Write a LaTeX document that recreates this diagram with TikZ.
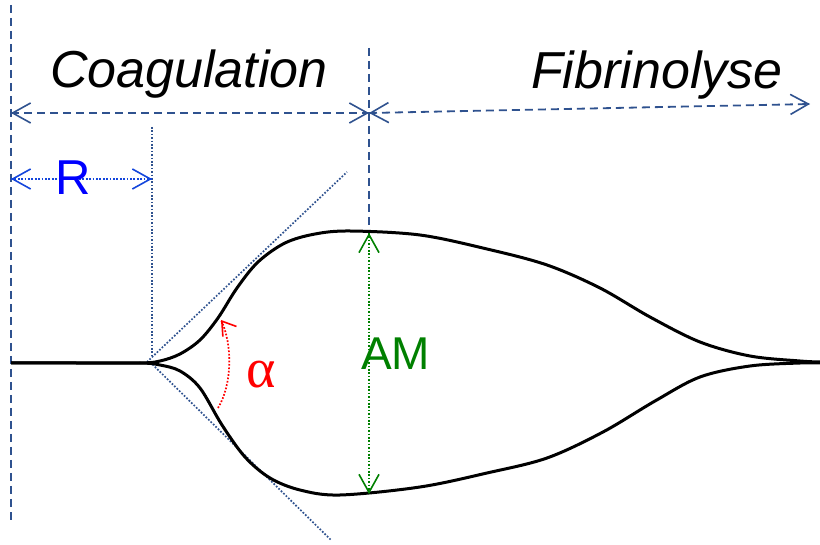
\documentclass[tikz,border=0pt]{standalone}
\usepackage{fontspec}
\setmainfont{Liberation Sans}
\newfontfamily\greekfont{Liberation Serif}
\usetikzlibrary{arrows.meta,calc}
\definecolor{dkblue}{RGB}{47,82,143}
\definecolor{rblue}{RGB}{20,70,220}
\definecolor{txtblue}{RGB}{0,0,255}
\definecolor{amgreen}{RGB}{0,128,0}
\definecolor{alred}{RGB}{255,0,0}
\tikzset{
  barb/.tip={Straight Barb[length=18pt,width=20pt,line width=1.6pt]},
  sbarb/.tip={Straight Barb[length=13pt,width=17pt,line width=1.6pt]},
  headonly/.style={solid,line width=1.6pt,-barb},
  dashline/.style={draw=dkblue,line width=1.8pt,dash pattern=on 8pt off 5pt},
  dotline/.style={line width=1.7pt,dash pattern=on 1.7pt off 1.7pt},
  curve/.style={draw=black,line width=3pt,line join=round},
  bigtext/.style={inner sep=0pt,anchor=base west,font=\fontsize{52}{62}\selectfont}
}
\begin{document}
\begin{tikzpicture}[x=1pt,y=-1pt]
\useasboundingbox (0,0) rectangle (820,545);
% coordinates
\coordinate (Ltop) at (11,5);
\coordinate (Lbot) at (11,522);
\coordinate (Mtop) at (369,48);
\coordinate (Mbot) at (369,232);
\coordinate (A1) at (11,113);
\coordinate (A2) at (369,113);
\coordinate (A3) at (810,104);
\coordinate (Rtop) at (152,127);
\coordinate (Rbot) at (152,355);
\coordinate (R1) at (11,179);
\coordinate (R2) at (152,179);
\coordinate (T0) at (147,362);
\coordinate (T1) at (347,172);
\coordinate (T2) at (150,362);
\coordinate (T3) at (331,540);
\coordinate (AMt) at (369,233);
\coordinate (AMb) at (369,494);
\coordinate (al1) at (218,408);
\coordinate (al2) at (221,320);
% guide lines
\draw[dashline] (Ltop) -- (Lbot);
\draw[dashline] (Mtop) -- (Mbot);
\draw[dashline] (A1) -- (A2);
\draw[dashline] (A2) -- (A3);
\draw[headonly,draw=dkblue] ($(A1)!1pt!(A2)$) -- (A1);
\draw[headonly,draw=dkblue] ($(A2)!1pt!(A1)$) -- (A2);
\draw[headonly,draw=dkblue] ($(A2)!1pt!(A3)$) -- (A2);
\draw[headonly,draw=dkblue] ($(A3)!1pt!(A2)$) -- (A3);
\draw[dotline,draw=dkblue] (Rtop) -- (Rbot);
\draw[dotline,draw=rblue] (R1) -- (R2);
\draw[headonly,draw=rblue] ($(R1)!1pt!(R2)$) -- (R1);
\draw[headonly,draw=rblue] ($(R2)!1pt!(R1)$) -- (R2);
\draw[dotline,draw=dkblue] (T0) -- (T1);
\draw[dotline,draw=dkblue] (T2) -- (T3);
% curves
\draw[curve] plot[smooth,tension=0.55] coordinates {(11,363)(75,363)(140,363)(160,361)(180,354)(200,340)(218,318)(237,288)(258,262)(285,243)(315,234)(350,231)(420,235)(487,249)(547,265)(600,288)(650,317)(700,342)(750,356)(800,361)(820,362)};
\draw[curve] plot[smooth,tension=0.55] coordinates {(11,363)(75,363)(140,363)(160,365)(180,371)(200,388)(222,425)(245,457)(270,478)(300,490)(340,495)(420,487)(487,473)(547,458)(603,432)(655,401)(700,377)(750,366)(800,363)(820,363)};
% AM arrow
\draw[dotline,draw=amgreen] (AMt) -- (AMb);
\draw[headonly,draw=amgreen] ($(AMt)!1pt!(AMb)$) -- (AMt);
\draw[headonly,draw=amgreen] ($(AMb)!1pt!(AMt)$) -- (AMb);
% alpha arc
\draw[dotline,draw=alred] (al1) .. controls (232,385) and (233,345) .. (al2);
\draw[solid,line width=1.6pt,draw=alred,-sbarb] (222.5,322) -- (al2);
% texts
\node[bigtext] (coag) at (50,88) {\itshape Coagulation};
\node[bigtext] (fibr) at (531,89) {\itshape Fibrinolyse};
\node[bigtext,text=txtblue,font=\fontsize{49}{58}\selectfont] (rlab) at (55,195) {R};
\node[bigtext,text=amgreen,font=\fontsize{46}{56}\selectfont] (amlab) at (361,370) {AM};
\node[bigtext,text=alred,font=\fontsize{56}{66}\selectfont\greekfont] (allab) at (246,388) {α};
\end{tikzpicture}
\end{document}
